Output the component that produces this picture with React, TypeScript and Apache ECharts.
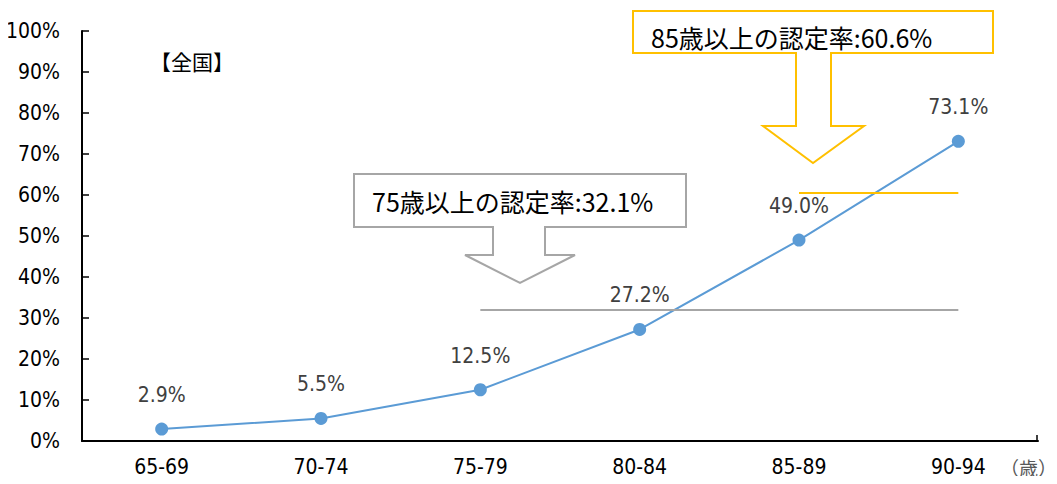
import React, { useEffect, useRef } from "react";
import * as echarts from "echarts";

const categories = ["65-69", "70-74", "75-79", "80-84", "85-89", "90-94"];
const rates = [2.9, 5.5, 12.5, 27.2, 49.0, 73.1];
const rate75 = 32.1;
const rate85 = 60.6;
const label75 = "75歳以上の認定率:32.1%";
const label85 = "85歳以上の認定率:60.6%";
const regionLabel = "【全国】";
const unitLabel = "（歳）";

const NUM_FONT = "'Liberation Sans Narrow', 'DejaVu Sans Condensed', 'Liberation Sans', sans-serif";
const JP_FONT = "'Noto Sans CJK JP', sans-serif";

export default function App() {
  const ref = useRef<HTMLDivElement>(null);
  useEffect(() => {
    if (!ref.current) return;
    const chart = echarts.init(ref.current, undefined, { renderer: "svg" });
    const gray = "#a6a6a6";
    const yellow = "#ffc000";
    chart.setOption({
      animation: false,
      backgroundColor: "#ffffff",
      grid: { left: 82, top: 31, right: 19, bottom: 43, containLabel: false },
      xAxis: {
        type: "category",
        data: categories,
        boundaryGap: true,
        axisLine: { lineStyle: { color: "#000", width: 2 } },
        axisTick: { alignWithLabel: true, inside: true, length: 6, lineStyle: { color: "#000", width: 1.5 } },
        axisLabel: { color: "#000", fontFamily: NUM_FONT, fontSize: 21, margin: 15 },
      },
      yAxis: {
        type: "value",
        min: 0,
        max: 100,
        interval: 10,
        splitLine: { show: false },
        axisLine: { show: true, lineStyle: { color: "#000", width: 2 } },
        axisTick: { show: true, inside: true, length: 7, lineStyle: { color: "#000", width: 1.5 } },
        axisLabel: { color: "#000", fontFamily: NUM_FONT, fontSize: 21, margin: 22, formatter: "{value}%" },
      },
      series: [
        {
          type: "line",
          data: rates,
          symbol: "circle",
          symbolSize: 13,
          itemStyle: { color: "#5b9bd5" },
          lineStyle: { color: "#5b9bd5", width: 2 },
          label: {
            show: true,
            position: "top",
            distance: 17,
            color: "#404040",
            fontFamily: NUM_FONT,
            fontSize: 21,
            formatter: (p: any) => p.value.toFixed(1) + "%",
          },
          markLine: {
            symbol: "none",
            silent: true,
            label: { show: false },
            data: [
              [
                { coord: [categories[2], rate75], lineStyle: { color: gray, width: 2, type: "solid" } },
                { coord: [categories[5], rate75] },
              ],
              [
                { coord: [categories[4], rate85], lineStyle: { color: yellow, width: 2, type: "solid" } },
                { coord: [categories[5], rate85] },
              ],
            ],
          },
          z: 3,
        },
      ],
      graphic: [
        {
          type: "line",
          shape: { x1: 1037, y1: 441, x2: 1037, y2: 435 },
          style: { stroke: "#000", lineWidth: 1.5 },
        },
        {
          type: "text",
          left: 150,
          top: 50,
          style: { text: regionLabel, font: `21px ${JP_FONT}`, fill: "#000" },
        },
        {
          type: "text",
          right: 0,
          top: 458,
          style: { text: unitLabel, font: `19px ${JP_FONT}`, fill: "#595959" },
        },
        {
          type: "polygon",
          z: 10,
          shape: {
            points: [
              [354, 174], [686, 174], [686, 227], [545, 227], [545, 255], [575, 255],
              [520, 283], [465, 255], [493, 255], [493, 227], [354, 227],
            ],
          },
          style: { fill: "#ffffff", stroke: gray, lineWidth: 2 },
        },
        {
          type: "text",
          z: 11,
          x: 372,
          y: 201,
          style: { text: label75, font: `25px ${JP_FONT}`, fill: "#000", verticalAlign: "middle" },
        },
        {
          type: "polygon",
          z: 10,
          shape: {
            points: [
              [633, 11], [993, 11], [993, 53], [831, 53], [831, 126], [864, 126],
              [813, 163], [763, 126], [796, 126], [796, 53], [633, 53],
            ],
          },
          style: { fill: "#ffffff", stroke: yellow, lineWidth: 2 },
        },
        {
          type: "text",
          z: 11,
          x: 651,
          y: 37,
          style: { text: label85, font: `25px ${JP_FONT}`, fill: "#000", verticalAlign: "middle" },
        },
      ],
    });
    return () => chart.dispose();
  }, []);
  return <div ref={ref} style={{ width: 1057, height: 484, margin: -8 }} />;
}
